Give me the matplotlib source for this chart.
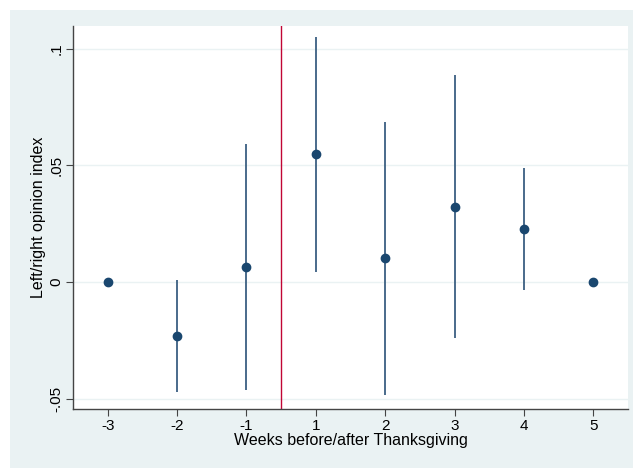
import matplotlib
matplotlib.use("Agg")
from matplotlib import pyplot as plt
from matplotlib.patches import Rectangle
import numpy as np

weeks = ["-3", "-2", "-1", "1", "2", "3", "4", "5"]
coef = [0.0, -0.0231, 0.0063, 0.0547, 0.0101, 0.0323, 0.0228, 0.0]
ci_low = [np.nan, -0.0471, -0.0463, 0.0044, -0.0484, -0.0241, -0.0034, np.nan]
ci_high = [np.nan, 0.0009, 0.0590, 0.1051, 0.0686, 0.0888, 0.0490, np.nan]
yticks = [-0.05, 0, 0.05, 0.1]
ytick_labels = ["-.05", "0", ".05", ".1"]

navy = "#1a476f"
bg = "#eaf2f3"

plt.rcParams['font.family'] = ['Liberation Sans', 'DejaVu Sans']

fig = plt.figure(figsize=(6.33, 4.68), dpi=100)
fig.patch.set_facecolor("white")
fig.patches.append(Rectangle((10 / 633, 0), 1 - 10 / 633, 1 - 10 / 468,
                             transform=fig.transFigure, facecolor=bg,
                             edgecolor="none", zorder=-10))

ax = fig.add_axes([73 / 633, 1 - 409 / 468, (628 - 73) / 633, (409 - 26) / 468])
ax.set_facecolor("white")

pos = np.arange(len(weeks))
for x, lo, hi in zip(pos, ci_low, ci_high):
    if not np.isnan(lo):
        ax.plot([x, x], [lo, hi], color="#3b5f82", lw=1.3, zorder=2,
                solid_capstyle="butt")
ax.plot(pos, coef, "o", color=navy, markersize=6, zorder=3)
ax.axvline(2.5, color="#c10534", lw=1.0, zorder=2)

ax.set_xlim(-0.5, 7.5)
ax.set_ylim(-0.0544, 0.1097)
ax.set_xticks(pos)
ax.set_xticklabels(weeks, fontsize=11)
ax.set_yticks(yticks)
ax.set_yticklabels(ytick_labels, fontsize=11, rotation=90, va="center")
ax.yaxis.grid(True, color=bg, lw=1)
ax.set_axisbelow(True)

for s in ["top", "right"]:
    ax.spines[s].set_visible(False)
for s in ["left", "bottom"]:
    ax.spines[s].set_color("#444444")
    ax.spines[s].set_linewidth(1)
ax.tick_params(length=5, width=0.8, color="#444444", pad=2)

ax.set_xlabel("Weeks before/after Thanksgiving", fontsize=11.5, labelpad=0)
ax.set_ylabel("Left/right opinion index", fontsize=11.5, labelpad=2)

fig.savefig("out.png", dpi=100, facecolor=fig.get_facecolor())
